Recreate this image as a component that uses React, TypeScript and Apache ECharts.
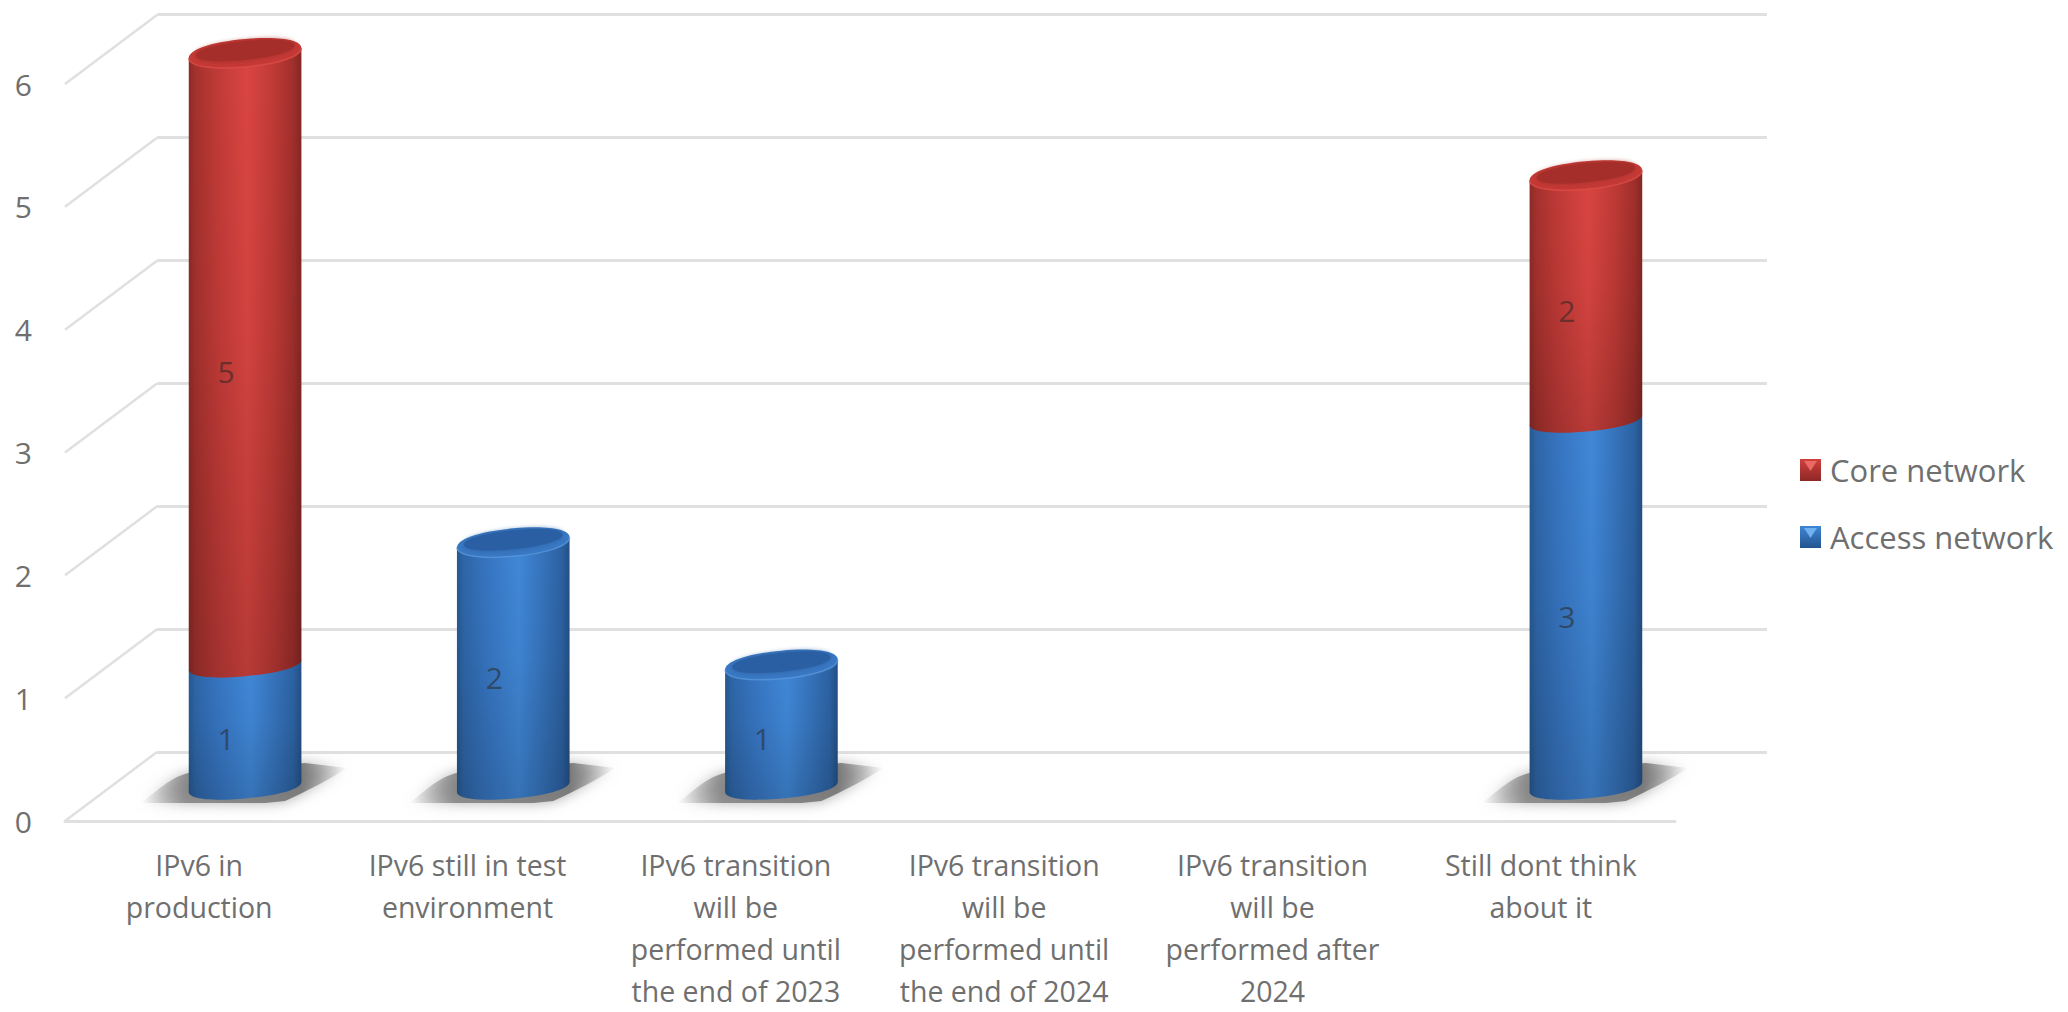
import React, { useEffect, useRef } from "react";
import * as echarts from "echarts";

const categories = [
  "IPv6 in\nproduction",
  "IPv6 still in test\nenvironment",
  "IPv6 transition\nwill be\nperformed until\nthe end of 2023",
  "IPv6 transition\nwill be\nperformed until\nthe end of 2024",
  "IPv6 transition\nwill be\nperformed after\n2024",
  "Still dont think\nabout it",
];
const accessNetwork = [1, 2, 1, 0, 0, 3];
const coreNetwork = [5, 0, 0, 0, 0, 2];
const valueTicks = [0, 1, 2, 3, 4, 5, 6];

const FONT = '"Open Sans", "Noto Sans", sans-serif';
const TEXT = "#6f6f6f";
const GRID_LINE = "#e0e0e0";
const DEPTH_X = 92;
const DEPTH_Y = -69;
const TILT = 5;
const KAPPA = 0.6;

const hGrad = (stops: [number, string][]) =>
  new echarts.graphic.LinearGradient(0, 0, 1, 0, stops.map(([offset, color]) => ({ offset, color })));
const vGrad = (stops: [number, string][]) =>
  new echarts.graphic.LinearGradient(0, 0, 0, 1, stops.map(([offset, color]) => ({ offset, color })));

const palette = {
  core: {
    body: [[0, "#8c2a26"], [0.06, "#a5312d"], [0.25, "#c03a37"], [0.52, "#da4541"], [0.75, "#c03a36"], [0.93, "#a02f2b"], [1, "#842723"]] as [number, string][],
    capInner: "#a62f2b",
    capOuter: "#c53a36",
    rim: "#e0504b",
    label: "#6b2f2b",
    swatch: [[0, "#d0403c"], [1, "#8c2825"]] as [number, string][],
    tri: "#ea6a66",
  },
  access: {
    body: [[0, "#26588f"], [0.06, "#2e66a8"], [0.25, "#3674c0"], [0.55, "#4088d8"], [0.75, "#3674bd"], [0.93, "#2c62a2"], [1, "#234f85"]] as [number, string][],
    capInner: "#2b61a3",
    capOuter: "#3a78c3",
    rim: "#5c9be0",
    label: "#2e4a68",
    swatch: [[0, "#3f86d6"], [1, "#24548f"]] as [number, string][],
    tri: "#6fb0f0",
  },
};

// Sheared ellipse outline; the shear keeps vertical tangents at the column edges.
const ringPoint = (cx: number, cy: number, a: number, tilt: number) => (u: number, v: number) =>
  `${cx + u} ${cy + v - (u / a) * tilt}`;

const frontArc = (cx: number, cy: number, a: number, b: number, tilt: number) => {
  const p = ringPoint(cx, cy, a, tilt);
  const k = KAPPA;
  return `C ${p(-a, k * b)} ${p(-k * a, b)} ${p(0, b)} C ${p(k * a, b)} ${p(a, k * b)} ${p(a, 0)}`;
};

const ringPath = (cx: number, cy: number, a: number, b: number, tilt: number) => {
  const p = ringPoint(cx, cy, a, tilt);
  const k = KAPPA;
  return (
    `M ${p(-a, 0)} ${frontArc(cx, cy, a, b, tilt)} ` +
    `C ${p(a, -k * b)} ${p(k * a, -b)} ${p(0, -b)} C ${p(-k * a, -b)} ${p(-a, -k * b)} ${p(-a, 0)} Z`
  );
};

// One stacked segment of a cylinder: side wall, shading, optional top cap, value label.
const cylinderSegment = (colors: typeof palette.core) => (_params: any, api: any) => {
  const cat = api.value(0);
  const base = api.value(1);
  const top = api.value(2);
  const isTopSegment = api.value(3) === 1;
  const band = api.size([1, 0])[0];
  const w = band * 0.42;
  const a = w / 2;
  const [cx, yTop] = api.coord([cat, top]);
  const [, yBase] = api.coord([cat, base]);
  const xl = cx - a;
  const xr = cx + a;
  const ryLow = 11.5;
  const ryCap = 14;

  const wall =
    `M ${xl} ${yTop + TILT} L ${xl} ${yBase + TILT} ` +
    `${frontArc(cx, yBase, a, ryLow, TILT)} ` +
    `L ${xr} ${yTop - TILT} Z`;

  const children: any[] = [
    { type: "path", shape: { pathData: wall }, style: { fill: hGrad(colors.body) } },
    {
      type: "path",
      shape: { pathData: wall },
      style: { fill: vGrad([[0, "rgba(0,0,0,0)"], [0.45, "rgba(0,0,0,0.04)"], [1, "rgba(0,0,0,0.16)"]]) },
    },
  ];

  if (isTopSegment) {
    children.push(
      { type: "path", shape: { pathData: ringPath(cx, yTop, a, ryCap, TILT) }, style: { fill: colors.capOuter } },
      {
        type: "path",
        shape: { pathData: ringPath(cx, yTop - 2.5, a - 7, ryCap - 4.5, TILT) },
        style: { fill: colors.capInner, shadowBlur: 5, shadowColor: colors.capInner },
      },
      {
        type: "path",
        shape: { pathData: `M ${xl} ${yTop + TILT} ${frontArc(cx, yTop, a, ryCap, TILT)}` },
        style: { fill: "none", stroke: colors.rim, lineWidth: 1.5, opacity: 0.7 },
      },
    );
  }

  children.push({
    type: "text",
    style: {
      text: String(top - base),
      x: cx - 19,
      y: (yTop + yBase) / 2 + 13,
      fill: colors.label,
      font: `30px ${FONT}`,
      align: "center",
      verticalAlign: "middle",
    },
  });

  return { type: "group", children };
};

// Soft cast shadow lying on the floor behind each occupied column.
const floorShadow = (_params: any, api: any) => {
  const [cx, y0] = api.coord([api.value(0), 0]);
  const d =
    `M ${cx - 104} ${y0 + 16} C ${cx - 85} ${y0 + 2} ${cx - 72} ${y0 - 13} ${cx - 50} ${y0 - 15} ` +
    `L ${cx + 60} ${y0 - 24} L ${cx + 102} ${y0 - 19} C ${cx + 85} ${y0 - 8} ${cx + 62} ${y0 + 4} ${cx + 40} ${y0 + 14} ` +
    `L ${cx + 20} ${y0 + 16} Z`;
  return {
    type: "path",
    shape: { pathData: d },
    style: {
      fill: hGrad([
        [0, "rgba(130,130,130,0)"],
        [0.22, "rgba(125,125,125,0.8)"],
        [0.78, "rgba(115,115,115,0.9)"],
        [1, "rgba(130,130,130,0)"],
      ]),
      shadowBlur: 14,
      shadowColor: "rgba(130,130,130,0.75)",
    },
  };
};

// Side-wall gridline joining a front-plane tick to the back wall.
const depthLine = (_params: any, api: any) => {
  const [x, y] = api.coord([0, api.value(1)]);
  const left = x - api.size([1, 0])[0] / 2;
  return {
    type: "line",
    shape: { x1: left, y1: y, x2: left + DEPTH_X, y2: y + DEPTH_Y },
    style: { stroke: GRID_LINE, lineWidth: 2.5 },
  };
};

const hiddenCategoryAxis = (gridIndex: number) => ({
  type: "category" as const,
  gridIndex,
  data: categories,
  show: false,
});

const segments = (values: number[], under: number[], above: number[]) =>
  values
    .map((v, i) => [i, under[i], under[i] + v, above[i] > 0 ? 0 : 1, v])
    .filter((row) => row[4] > 0);

const noValues = categories.map(() => 0);

export default function App() {
  const ref = useRef<HTMLDivElement>(null);

  useEffect(() => {
    document.body.style.margin = "0";
    const chart = echarts.init(ref.current!, undefined, { renderer: "svg" });
    chart.setOption({
      animation: false,
      backgroundColor: "#ffffff",
      grid: [
        { left: 65, top: 84, width: 1610, height: 737, outerBoundsMode: "none" },
        { left: 157, top: 14, width: 1610, height: 738, outerBoundsMode: "none" },
        { left: 111, top: 53, width: 1609, height: 734, outerBoundsMode: "none" },
      ],
      xAxis: [
        {
          type: "category",
          gridIndex: 0,
          data: categories,
          axisLine: { show: true, lineStyle: { color: GRID_LINE, width: 3 } },
          axisTick: { show: false },
          axisLabel: {
            interval: 0,
            margin: 23,
            color: TEXT,
            fontFamily: FONT,
            fontSize: 28.5,
            lineHeight: 42,
            align: "center",
          },
        },
        hiddenCategoryAxis(1),
        hiddenCategoryAxis(2),
      ],
      yAxis: [
        {
          type: "value",
          gridIndex: 0,
          min: 0,
          max: 6,
          interval: 1,
          axisLine: { show: false },
          axisTick: { show: false },
          splitLine: { show: false },
          axisLabel: { margin: 33, color: TEXT, fontFamily: FONT, fontSize: 30 },
        },
        {
          type: "value",
          gridIndex: 1,
          min: 0,
          max: 6,
          interval: 1,
          axisLine: { show: false },
          axisTick: { show: false },
          axisLabel: { show: false },
          splitLine: { show: true, lineStyle: { color: GRID_LINE, width: 3 } },
        },
        { type: "value", gridIndex: 2, min: 0, max: 6, interval: 1, show: false },
      ],
      legend: {
        left: 1800,
        top: 454.5,
        padding: 0,
        orient: "vertical",
        itemWidth: 21,
        itemHeight: 22,
        itemGap: 36,
        selectedMode: false,
        textStyle: {
          color: TEXT,
          fontFamily: FONT,
          fontSize: 31,
          lineHeight: 31,
          padding: [0, 0, 0, 4],
        },
        data: [
          { name: "Core network", icon: "rect", itemStyle: { color: vGrad(palette.core.swatch) } },
          { name: "Access network", icon: "rect", itemStyle: { color: vGrad(palette.access.swatch) } },
        ],
      },
      graphic: [
        {
          type: "polygon",
          silent: true,
          z: 100,
          shape: { points: [[1804, 461], [1817, 461], [1810.5, 471]] },
          style: { fill: palette.core.tri },
        },
        {
          type: "polygon",
          silent: true,
          z: 100,
          shape: { points: [[1804, 528], [1817, 528], [1810.5, 538]] },
          style: { fill: palette.access.tri },
        },
      ],
      series: [
        {
          name: "depth",
          type: "custom",
          xAxisIndex: 0,
          yAxisIndex: 0,
          clip: false,
          silent: true,
          renderItem: depthLine,
          data: valueTicks.map((v) => [0, v]),
        },
        {
          name: "floor shadow",
          type: "custom",
          xAxisIndex: 2,
          yAxisIndex: 2,
          clip: false,
          silent: true,
          renderItem: floorShadow,
          data: categories
            .map((_, i) => [i, accessNetwork[i] + coreNetwork[i]])
            .filter((row) => row[1] > 0),
        },
        {
          name: "Access network",
          type: "custom",
          xAxisIndex: 2,
          yAxisIndex: 2,
          clip: false,
          silent: true,
          itemStyle: { color: palette.access.swatch[0][1] },
          renderItem: cylinderSegment(palette.access),
          encode: { x: 0, y: 2 },
          data: segments(accessNetwork, noValues, coreNetwork),
        },
        {
          name: "Core network",
          type: "custom",
          xAxisIndex: 2,
          yAxisIndex: 2,
          clip: false,
          silent: true,
          itemStyle: { color: palette.core.swatch[0][1] },
          renderItem: cylinderSegment(palette.core),
          encode: { x: 0, y: 2 },
          data: segments(coreNetwork, accessNetwork, noValues),
        },
      ],
    });
    return () => chart.dispose();
  }, []);

  return (
    <div
      ref={ref}
      style={{ position: "fixed", left: 0, top: 0, width: 2068, height: 1012 }}
    />
  );
}
